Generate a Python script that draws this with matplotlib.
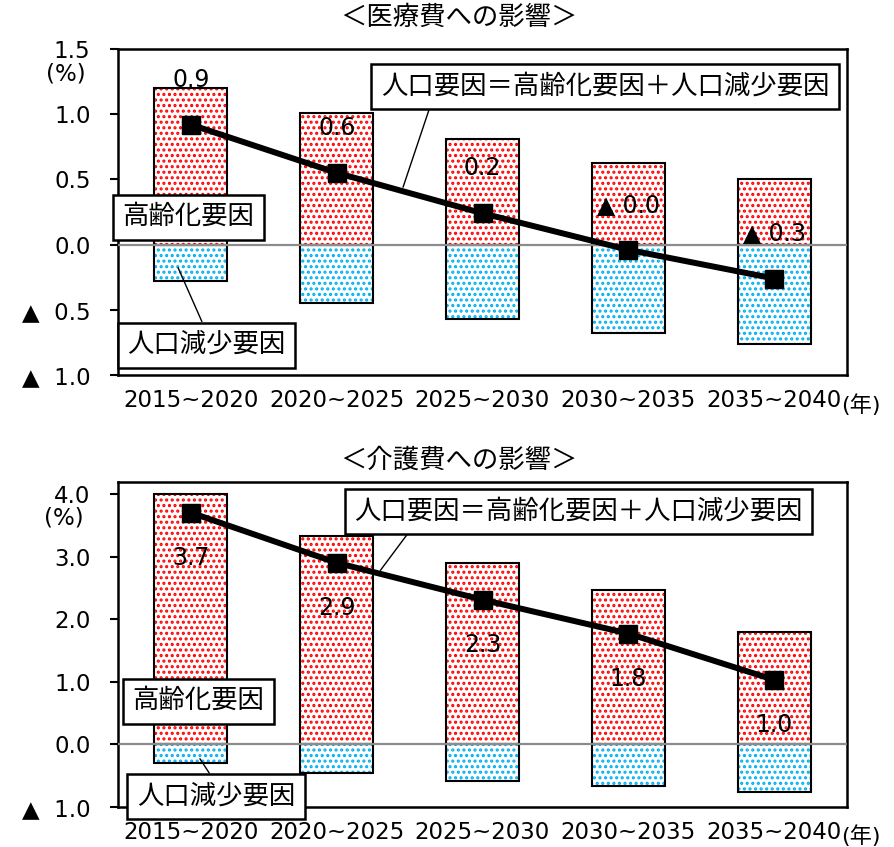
import matplotlib
matplotlib.use("Agg")
import matplotlib.pyplot as plt
import numpy as np

plt.rcParams["font.family"] = ["DejaVu Sans", "Noto Sans CJK JP"]
plt.rcParams["hatch.linewidth"] = 1.5

# ---- data ----------------------------------------------------
periods = ["2015~2020", "2020~2025", "2025~2030", "2030~2035", "2035~2040"]

med_aging = [1.20, 1.01, 0.81, 0.625, 0.50]
med_pop = [-0.28, -0.45, -0.57, -0.675, -0.76]
med_total = [0.92, 0.55, 0.24, -0.04, -0.26]
med_labels = ["0.9", "0.6", "0.2", "▲ 0.0", "▲ 0.3"]
med_yticks = [-1.0, -0.5, 0.0, 0.5, 1.0, 1.5]
med_yticklabels = ["▲  1.0", "▲  0.5", "0.0", "0.5", "1.0", "1.5"]

care_aging = [4.00, 3.33, 2.89, 2.46, 1.80]
care_pop = [-0.29, -0.45, -0.58, -0.67, -0.76]
care_total = [3.70, 2.90, 2.31, 1.77, 1.03]
care_labels = ["3.7", "2.9", "2.3", "1.8", "1.0"]
care_yticks = [-1.0, 0.0, 1.0, 2.0, 3.0, 4.0]
care_yticklabels = ["▲  1.0", "0.0", "1.0", "2.0", "3.0", "4.0"]

RED = "#ff0000"
CYAN = "#00b0f0"
FS = 16.5
FS_LAB = 17
FS_JP = 19

W, H = 894, 847
fig = plt.figure(figsize=(W / 100, H / 100), dpi=100, facecolor="white")


def _ax(left, top, right, bottom):
    return fig.add_axes([left / W, 1 - bottom / H, (right - left) / W, (bottom - top) / H])


def _box(ax, text, xy_text, target=None, relpos=(0.5, 0.5)):
    kw = dict(fontsize=FS_JP, ha="center", va="center", zorder=10,
              bbox=dict(boxstyle="square,pad=0.36", fc="white", ec="black", lw=1.8))
    if target is None:
        ax.annotate(text, xy=xy_text, xytext=xy_text, **kw)
    else:
        ax.annotate(text, xy=target, xytext=xy_text,
                    arrowprops=dict(arrowstyle="-", lw=1.0, color="black",
                                    relpos=relpos, shrinkA=0, shrinkB=0), **kw)


def draw_panel(ax, aging, pop, total, labels, yticks, yticklabels, ylim, label_dy):
    x = np.arange(len(periods))
    for vals, col in ((aging, RED), (pop, CYAN)):
        ax.bar(x, vals, width=0.5, color="white", edgecolor=col, hatch="...",
               linewidth=0, zorder=2)
        ax.bar(x, vals, width=0.5, fill=False, edgecolor="black", linewidth=1.5, zorder=3)
    ax.axhline(0, color="#8c8c8c", lw=1.6, zorder=4)
    ax.plot(x, total, color="black", lw=4.3, marker="s", markersize=13, zorder=5)
    for xi, yi, lab in zip(x, total, labels):
        ax.annotate(lab, xy=(xi, yi), xytext=(0, label_dy), textcoords="offset points",
                    ha="center", va="center", fontsize=FS_LAB, zorder=6)
    ax.set_xlim(-0.5, len(periods) - 0.5)
    ax.set_ylim(*ylim)
    ax.set_yticks(yticks)
    ax.set_yticklabels(yticklabels)
    ax.set_xticks(x)
    ax.set_xticklabels(periods)
    ax.tick_params(axis="y", length=5.8, width=1.5, pad=14, labelsize=FS)
    ax.tick_params(axis="x", length=0, pad=10, labelsize=FS)
    for s in ax.spines.values():
        s.set_linewidth(1.8)


# ---- 医療費 ---------------------------------------------------
ax1 = _ax(118, 49, 847, 375)
draw_panel(ax1, med_aging, med_pop, med_total, med_labels,
           med_yticks, med_yticklabels, (-1.0, 1.5), 32.4)
_box(ax1, "人口要因＝高齢化要因＋人口減少要因", (2.84, 1.21), (1.455, 0.44), (0.115, 0.0))
_box(ax1, "高齢化要因", (-0.016, 0.21))
_box(ax1, "人口減少要因", (0.107, -0.77), (-0.088, -0.177), (0.5, 1.0))

# ---- 介護費 ---------------------------------------------------
ax2 = _ax(118, 482, 847, 807)
draw_panel(ax2, care_aging, care_pop, care_total, care_labels,
           care_yticks, care_yticklabels, (-1.0, 4.19), -32.4)
_box(ax2, "人口要因＝高齢化要因＋人口減少要因", (2.66, 3.72), (1.30, 2.78), (0.134, 0.0))
_box(ax2, "高齢化要因", (0.052, 0.69))
_box(ax2, "人口減少要因", (0.172, -0.83), (0.062, -0.23), (0.5, 1.0))

# ---- titles / unit labels -------------------------------------
fig.text(459 / W, 1 - 18 / H, "＜医療費への影響＞", ha="center", va="center", fontsize=FS_JP)
fig.text(459 / W, 1 - 461 / H, "＜介護費への影響＞", ha="center", va="center", fontsize=FS_JP)
fig.text(66 / W, 1 - 74 / H, "(%)", ha="center", va="center", fontsize=FS)
fig.text(64 / W, 1 - 518 / H, "(%)", ha="center", va="center", fontsize=FS)
for y in (405, 836):
    fig.text(861 / W, 1 - y / H, "(年)", ha="center", va="center", fontsize=16)

fig.savefig("out.png", dpi=100, facecolor="white")
